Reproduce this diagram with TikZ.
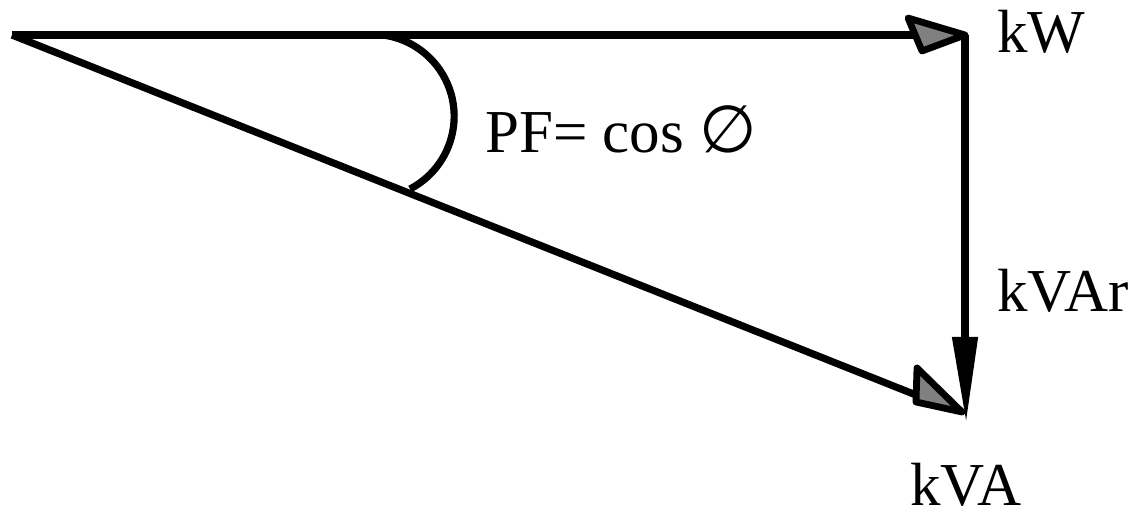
\documentclass[tikz,border=0pt]{standalone}
\usepackage{fontspec}
\setmainfont{Liberation Serif}
\newfontfamily\symfont{DejaVu Sans}
\begin{document}
\begin{tikzpicture}[x=0.5pt,y=-0.5pt,
  vec/.style={line width=3.6pt},
  headgray/.style={draw=black,fill=black!50,line width=3.4pt,line join=round},
  headblack/.style={draw=black,fill=black,line width=1pt,line join=miter},
  lbl/.style={font=\fontsize{30.5}{36}\selectfont,inner sep=0pt}]
\useasboundingbox (0,0) rectangle (1146,518);
\coordinate (O) at (12,35);
\coordinate (W) at (965,35);
\coordinate (V) at (965,414);
\coordinate (Wend) at (915,35);
\coordinate (Rend) at (965,340);
\coordinate (Vend) at (916,395);
% vectors
\draw[vec] (O) -- (Wend);
\draw[vec] (O) -- (Vend);
\draw[vec] (W) -- (Rend);
% arrowheads
\draw[headgray] (908,18) -- (965,35) -- (922,51) -- cycle;
\fill[headblack] (953,338) -- (977,338) -- (966,414) -- cycle;
\draw[headgray] (917,368) -- (962,412) -- (916,402) -- cycle;
% angle arc
\coordinate (C) at (372,117);
\draw[vec] (383,35) arc[start angle=-82.4, end angle=62.5, radius=82];
% labels
\node[lbl,anchor=base west] (kW) at (997,53) {kW};
\node[lbl,anchor=base west] (kVAr) at (997,312) {kVAr};
\node[lbl,anchor=base west] (kVA) at (910,505) {kVA};
\node[lbl,anchor=base west] (pf) at (485,153) {PF= cos {\symfont\fontsize{33}{36}\selectfont ∅}};
\end{tikzpicture}
\end{document}
